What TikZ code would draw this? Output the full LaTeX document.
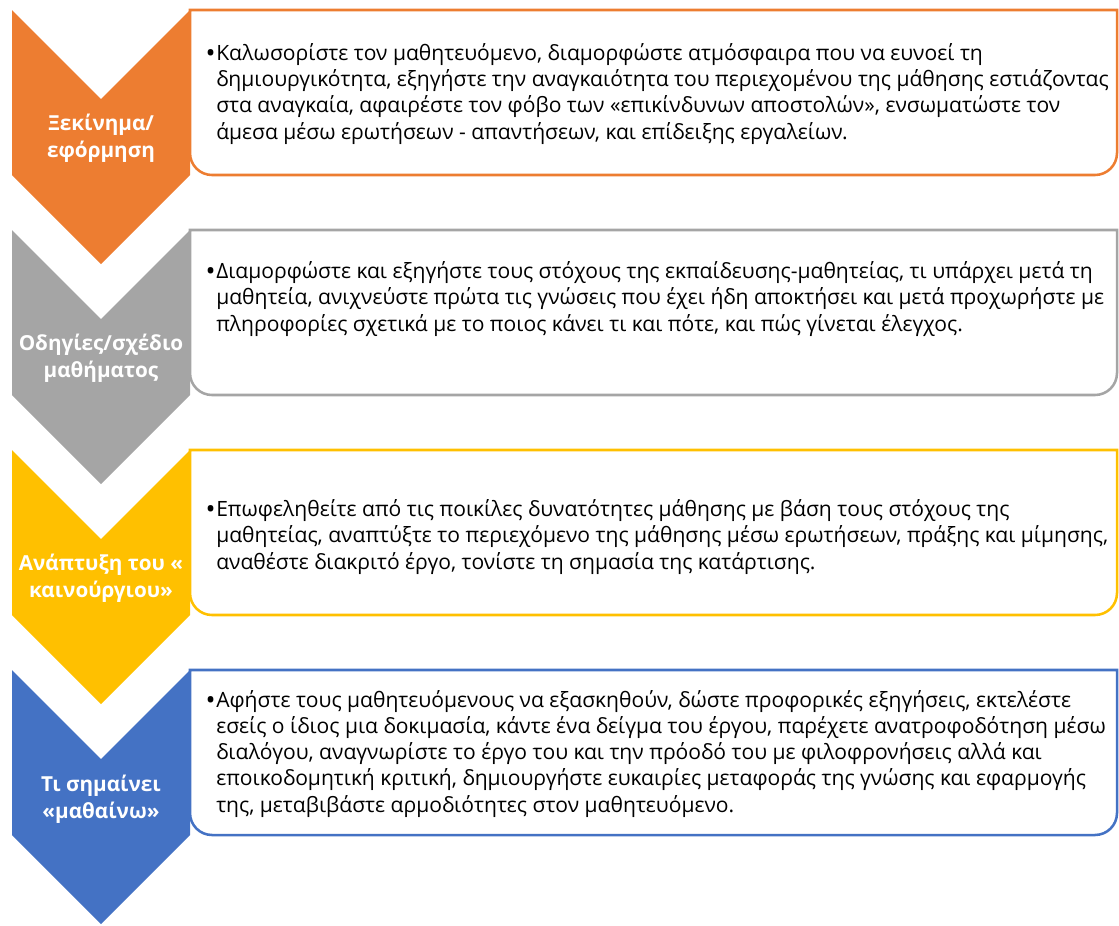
\documentclass[tikz,border=0pt]{standalone}
\usepackage{fontspec}
\setmainfont{Open Sans}

\definecolor{stepOrange}{HTML}{ED7D31}
\definecolor{stepGray}{HTML}{A5A5A5}
\definecolor{stepGold}{HTML}{FFC000}
\definecolor{stepBlue}{HTML}{4472C4}

% bullet that hangs left of the first line
\newcommand{\hangbullet}{\llap{\raisebox{-1.6pt}{\fontsize{20}{0}\selectfont •}\hspace{0.5pt}}}

\begin{document}
\begin{tikzpicture}[x=0.75pt,y=-0.75pt,
  frame/.style={draw=#1,line width=1.9pt,fill=white},
  title/.style={text=white,font=\bfseries\fontsize{15.5}{20}\selectfont,align=center,inner sep=0pt},
  body/.style={font=\fontsize{15.8}{19.6}\selectfont,align=left,anchor=base west,inner sep=0pt}]
\useasboundingbox (0,0) rectangle (1119,925);

% frames
\draw[frame=stepOrange] (190,10) -- (1117,10) [rounded corners=16.5pt] -- (1117,175) -- (190,175) [sharp corners] -- cycle;
\draw[frame=stepGray] (190,230) -- (1117,230) [rounded corners=16.5pt] -- (1117,395) -- (190,395) [sharp corners] -- cycle;
\draw[frame=stepGold] (190,450) -- (1117,450) [rounded corners=16.5pt] -- (1117,615) -- (190,615) [sharp corners] -- cycle;
\draw[frame=stepBlue] (190,670) -- (1117,670) [rounded corners=16.5pt] -- (1117,835) -- (190,835) [sharp corners] -- cycle;

% chevrons
\fill[stepOrange] (12,10) -- (101,99) -- (190,10) -- (190,175) -- (101,264) -- (12,175) -- cycle;
\fill[stepGray] (12,230) -- (101,319) -- (190,230) -- (190,395) -- (101,484) -- (12,395) -- cycle;
\fill[stepGold] (12,450) -- (101,539) -- (190,450) -- (190,615) -- (101,704) -- (12,615) -- cycle;
\fill[stepBlue] (12,670) -- (101,759) -- (190,670) -- (190,835) -- (101,924) -- (12,835) -- cycle;

% titles
\node[title] (start) at (101,138) {Ξεκίνημα/\\εφόρμηση};
\node[title] (plan) at (101,358) {Οδηγίες/σχέδιο\\μαθήματος};
\node[title] (develop) at (101,578) {Ανάπτυξη του «\\καινούργιου»};
\node[title] (learn) at (101,799) {Τι σημαίνει\\«μαθαίνω»};

% texts (placed by the baseline of their last line)
\node[body] (starttext) at (216,139) {\hangbullet Καλωσορίστε τον μαθητευόμενο, διαμορφώστε ατμόσφαιρα που να ευνοεί τη\\
δημιουργικότητα, εξηγήστε την αναγκαιότητα του περιεχομένου της μάθησης εστιάζοντας\\
στα αναγκαία, αφαιρέστε τον φόβο των «επικίνδυνων αποστολών», ενσωματώστε τον\\
άμεσα μέσω ερωτήσεων - απαντήσεων, και επίδειξης εργαλείων.};
\node[body] (plantext) at (216,331) {\hangbullet Διαμορφώστε και εξηγήστε τους στόχους της εκπαίδευσης-μαθητείας, τι υπάρχει μετά τη\\
μαθητεία, ανιχνεύστε πρώτα τις γνώσεις που έχει ήδη αποκτήσει και μετά προχωρήστε με\\
πληροφορίες σχετικά με το ποιος κάνει τι και πότε, και πώς γίνεται έλεγχος.};
\node[body] (developtext) at (216,569) {\hangbullet Επωφεληθείτε από τις ποικίλες δυνατότητες μάθησης με βάση τους στόχους της\\
μαθητείας, αναπτύξτε το περιεχόμενο της μάθησης μέσω ερωτήσεων, πράξης και μίμησης,\\
αναθέστε διακριτό έργο, τονίστε τη σημασία της κατάρτισης.};
\node[body] (learntext) at (216,812) {\hangbullet Αφήστε τους μαθητευόμενους να εξασκηθούν, δώστε προφορικές εξηγήσεις, εκτελέστε\\
εσείς ο ίδιος μια δοκιμασία, κάντε ένα δείγμα του έργου, παρέχετε ανατροφοδότηση μέσω\\
διαλόγου, αναγνωρίστε το έργο του και την πρόοδό του με φιλοφρονήσεις αλλά και\\
εποικοδομητική κριτική, δημιουργήστε ευκαιρίες μεταφοράς της γνώσης και εφαρμογής\\
της, μεταβιβάστε αρμοδιότητες στον μαθητευόμενο.};
\end{tikzpicture}
\end{document}
